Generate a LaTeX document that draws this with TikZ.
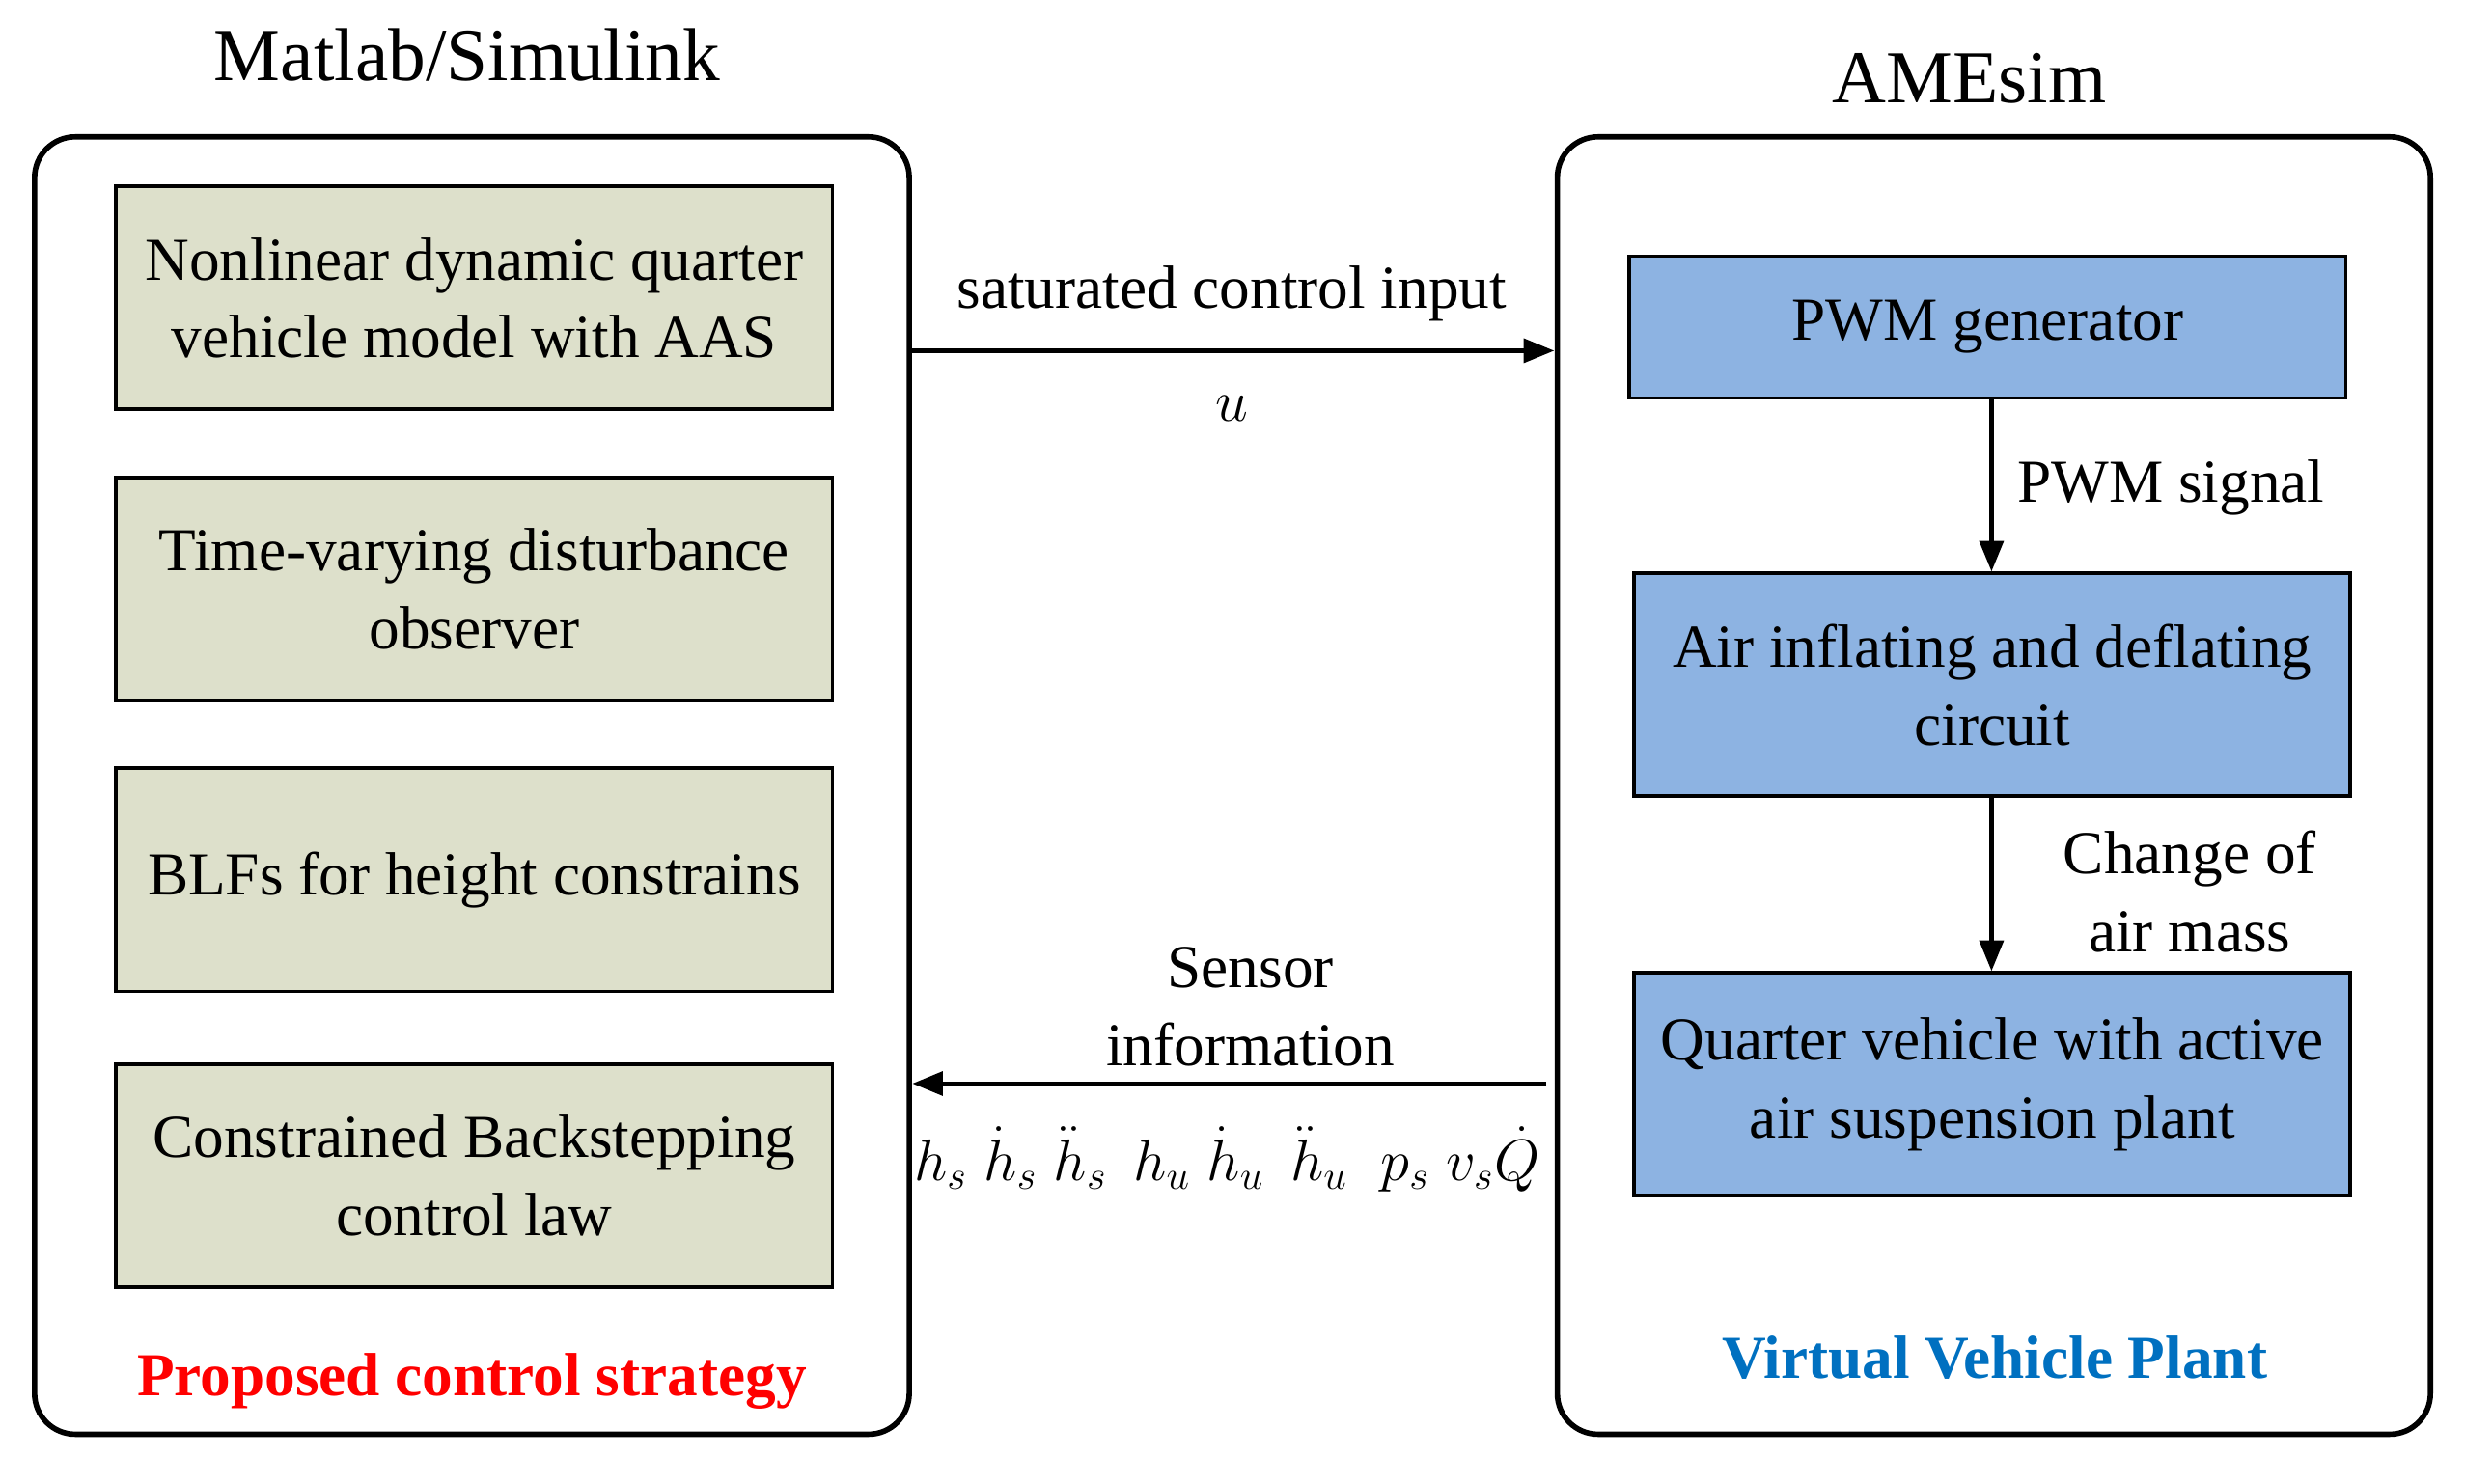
\documentclass[tikz,border=0pt]{standalone}
\usepackage{fontspec}
\setmainfont{Liberation Serif}
\usepackage{xcolor}
\usetikzlibrary{arrows.meta, positioning}
\definecolor{boxgreen}{HTML}{DDE0CB}
\definecolor{boxblue}{HTML}{8DB3E2}
\definecolor{plantblue}{HTML}{0070C0}
\tikzstyle{sim.frame} = [draw=black, line width=1.6pt, rounded corners=12pt]
\tikzstyle{sim.block} = [rectangle, fill=boxgreen, draw=black, line width=1.1pt, minimum width=7.42cm, minimum height=2.31cm, align=center, font=\fontsize{18}{23}\selectfont]
\tikzstyle{ame.block} = [rectangle, fill=boxblue, draw=black, line width=1.1pt, minimum width=7.42cm, align=center, font=\fontsize{18}{23}\selectfont]
\tikzstyle{sig.flow} = [-{Triangle[length=9pt,width=7pt]}, line width=1.3pt, black]
\tikzstyle{sig.label} = [align=center, font=\fontsize{18}{23}\selectfont]

\begin{document}
\begin{tikzpicture}[x=0.01630cm, y=-0.01630cm]
\useasboundingbox (0,0) rectangle (1567,943.6);
% frames
\draw[sim.frame] (22,87) rectangle (578,912);
\draw[sim.frame] (990,87) rectangle (1545,912);
\node[font=\fontsize{22}{26}\selectfont] (matlab) at (297,35) {Matlab/Simulink};
\node[font=\fontsize{22}{26}\selectfont] (amesim) at (1252,50) {AMEsim};

% Simulink side
\node[sim.block] (model) at (301.5,189.5) {Nonlinear dynamic quarter\\vehicle model with AAS};
\node[sim.block] (observer) at (301.5,374.5) {Time-varying disturbance\\observer};
\node[sim.block] (blf) at (301.5,559.5) {BLFs for height constrains};
\node[sim.block] (law) at (301.5,747.5) {Constrained Backstepping\\control law};
\node[font=\bfseries\fontsize{18}{23}\selectfont, text=red] (strategy) at (300,878) {Proposed control strategy};

% AMEsim side
\node[ame.block, minimum height=1.47cm] (pwm) at (1263.5,208) {PWM generator};
\node[ame.block, minimum height=2.31cm] (circuit) at (1266.5,435.5) {Air inflating and deflating\\circuit};
\node[ame.block, minimum height=2.31cm] (plant) at (1266.5,689.5) {Quarter vehicle with active\\air suspension plant};
\node[font=\bfseries\fontsize{18}{23}\selectfont, text=plantblue] (virtual) at (1268,863) {Virtual Vehicle Plant};

% connections
\coordinate (uout) at (578,223);
\coordinate (uin) at (988,223);
\coordinate (sout) at (983,689);
\coordinate (sin) at (580,689);
\draw[sig.flow] (uout) -- (uin);
\node[sig.label] (ctrl) at (783,187) {saturated control input};
\node[sig.label] (u) at (783,260) {$u$};
\draw[sig.flow] (sout) -- (sin);
\node[sig.label] (sensor) at (795,640) {Sensor\\information};
\node[sig.label, font=\fontsize{17}{22}\selectfont, inner sep=0pt] (states) at (780,737) {$h_s\;\dot h_s\;\ddot h_s\;\, h_u\;\dot h_u\;\,\ddot h_u\;\; p_s\;v_s\dot Q$};

\draw[sig.flow] (pwm.south -| 1266,0) -- (circuit.north -| 1266,0);
\node[sig.label] (pwmsig) at (1380,310) {PWM signal};
\draw[sig.flow] (circuit.south -| 1266,0) -- (plant.north -| 1266,0);
\node[sig.label] (airmass) at (1392,567) {Change of\\air mass};
\end{tikzpicture}
\end{document}
